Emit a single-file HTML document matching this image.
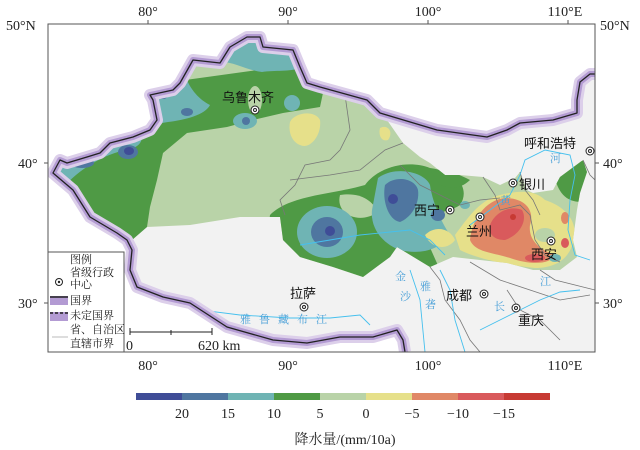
<!DOCTYPE html>
<html><head><meta charset="utf-8"><style>
html,body{margin:0;padding:0;background:#fff;}
svg{display:block;}
.t{font-family:"Liberation Serif","Noto Serif CJK SC",serif;font-size:14px;fill:#222;}
.c{font-family:"Liberation Sans","Noto Sans CJK SC",sans-serif;font-size:13px;fill:#111;}
.r{font-family:"Liberation Serif","Noto Serif CJK SC",serif;font-size:11px;fill:#4aa0d8;}
</style></head><body>
<svg width="640" height="450" viewBox="0 0 640 450" xmlns="http://www.w3.org/2000/svg">
<defs><clipPath id="fr"><rect x="48" y="24" width="547" height="328"/></clipPath>
<clipPath id="sa"><polygon points="60,160 67,163 87,157 100,153 110,143 133,137 150,130 157,120 153,100 150,95 173,90 180,83 193,60 220,63 230,47 247,37 260,37 263,47 293,50 300,67 307,83 320,87 367,100 380,113 387,120 403,143 420,157 430,163 445,175 460,175 483,177 500,185 515,178 520,172 527,190 533,193 553,190 560,177 583,160 587,172 580,193 577,210 573,240 577,257 560,270 533,270 507,263 480,260 453,257 430,267 397,247 390,257 363,277 333,267 300,257 283,240 280,217 240,217 190,225 147,227 132,240 127,240 117,233 90,217 73,190 53,173"/></clipPath>
<polyline id="b" points="596,74 590,74 580,82 577,100 577,113 553,120 520,123 507,130 487,137 437,130 380,113 367,100 320,87 307,83 300,67 293,50 263,47 260,37 247,37 230,47 220,63 193,60 180,83 173,90 150,95 153,100 157,120 150,130 133,137 110,143 100,153 87,157 67,163 60,160 53,173 73,190 90,217 117,233 127,240 132,250 130,270 137,287 163,297 190,303 227,327 273,340 307,343 340,337 373,337 397,330 403,340 405,352"/>
</defs>
<g clip-path="url(#fr)">
<rect x="48" y="24" width="547" height="328" fill="#f2f2f2"/>
<polygon fill="#fff" points="48,24 596,24 596,74 590,74 580,82 577,100 577,113 553,120 520,123 507,130 487,137 437,130 380,113 367,100 320,87 307,83 300,67 293,50 263,47 260,37 247,37 230,47 220,63 193,60 180,83 173,90 150,95 153,100 157,120 150,130 133,137 110,143 100,153 87,157 67,163 60,160 53,173 73,190 90,217 117,233 127,240 132,250 130,270 137,287 163,297 190,303 227,327 273,340 307,343 340,337 373,337 397,330 403,340 405,352 48,352"/>
<g clip-path="url(#sa)">
<rect x="48" y="24" width="547" height="328" fill="#b9d3a8"/>
<polygon fill="#4f9a45" points="40,100 330,60 320,107 283,113 253,120 227,127 187,133 163,153 157,180 150,207 147,227 130,260 40,260"/>
<path fill="#e6e08a" d="M290,122 C295,112 315,110 320,120 C322,135 310,150 300,145 C292,142 288,132 290,122Z"/>
<path fill="#e6e08a" d="M380,128 C388,124 394,132 388,140 C382,142 378,136 380,128Z"/>
<path fill="#6fb4b4" d="M150,80 L185,75 C190,90 200,100 210,105 C205,115 185,120 168,122 L150,125Z"/>
<path fill="#6fb4b4" d="M215,40 L300,40 L300,68 C290,72 275,70 262,72 C245,70 232,60 215,62Z"/>
<path fill="#6fb4b4" d="M48,150 L140,130 C145,140 140,148 125,150 C105,155 85,165 65,185 L48,185Z"/>
<ellipse cx="245" cy="121" rx="12" ry="8" fill="#6fb4b4"/>
<ellipse cx="292" cy="103" rx="8" ry="8" fill="#6fb4b4"/>
<ellipse cx="246" cy="121" rx="4" ry="4" fill="#4f76a0"/>
<ellipse cx="128" cy="152" rx="10" ry="7" fill="#4f76a0"/>
<ellipse cx="129" cy="151" rx="5" ry="4" fill="#3f4d97"/>
<ellipse cx="82" cy="163" rx="12" ry="5" fill="#4f76a0"/>
<ellipse cx="187" cy="112" rx="6" ry="4" fill="#4f76a0"/>
<ellipse cx="163" cy="95" rx="5" ry="4" fill="#4f76a0"/>
<ellipse cx="255" cy="100" rx="7" ry="14" fill="#b9d3a8"/>
<path fill="#4f9a45" d="M270,215 C290,195 330,195 365,185 C380,165 410,160 430,168 C460,172 470,190 460,205 C445,215 430,210 420,225 L440,270 L260,290Z"/>
<path fill="#b9d3a8" d="M340,195 C360,192 372,200 378,212 C360,225 335,215 340,195Z"/>
<path fill="#6fb4b4" d="M378,178 C395,165 425,172 430,185 C432,200 440,220 450,235 C440,250 420,255 400,250 C385,245 370,230 372,210Z"/>
<ellipse cx="327" cy="232" rx="30" ry="26" fill="#6fb4b4"/>
<ellipse cx="327" cy="232" rx="16" ry="15" fill="#4f76a0"/>
<circle cx="330" cy="231" r="5" fill="#3f4d97"/>
<path fill="#4f76a0" d="M385,185 C395,175 415,178 418,190 C420,205 410,218 400,222 C388,220 382,200 385,185Z"/>
<circle cx="393" cy="199" r="5" fill="#3f4d97"/>
<ellipse cx="438" cy="215" rx="7" ry="6" fill="#4f76a0"/>
<ellipse cx="465" cy="205" rx="5" ry="4" fill="#6fb4b4"/>
<path fill="#4f9a45" d="M555,178 C565,165 580,160 590,160 L590,200 C575,205 560,200 555,178Z"/>
<path fill="#4f9a45" d="M430,170 C445,168 460,175 470,180 C460,190 448,188 440,185Z"/>
<path fill="#e6e08a" d="M455,235 C470,215 480,200 500,195 C520,190 535,190 545,200 C560,205 575,215 575,235 C572,255 560,268 535,268 C510,265 480,260 460,250Z"/>
<path fill="#e6e08a" d="M425,235 C435,225 450,228 455,240 C448,250 432,250 425,235Z"/>
<path fill="#e08866" d="M470,240 C472,220 485,200 505,198 C525,198 535,210 530,225 C528,240 540,250 555,255 C550,265 530,265 510,258 C490,252 475,252 470,240Z"/>
<path fill="#d95a5c" d="M490,225 C495,212 510,205 522,210 C528,220 520,235 505,240 C495,240 488,235 490,225Z"/>
<circle cx="513" cy="217" r="3" fill="#c73a33"/>
<ellipse cx="565" cy="218" rx="4" ry="6" fill="#e08866"/>
<ellipse cx="565" cy="243" rx="4" ry="5" fill="#d95a5c"/>
<ellipse cx="535" cy="258" rx="10" ry="4" fill="#d95a5c"/>
<ellipse cx="545" cy="235" rx="10" ry="7" fill="#b9d3a8"/>
<ellipse cx="555" cy="258" rx="6" ry="4" fill="#6fb4b4"/>
</g>
<g fill="none" stroke="#777" stroke-width="0.8">
<polyline points="345,95 350,130 340,150 330,160 305,165 295,185 280,200 285,215"/>
<polyline points="290,180 330,175 360,170 385,150 403,143"/>
<polyline points="400,165 420,185 440,195 460,205 480,200 500,198"/>
<polyline points="483,177 495,195 500,210 520,205 530,215 535,240 545,255 560,262"/>
<polyline points="520,172 525,190 533,200 540,215"/>
<polyline points="430,267 440,280 445,300 460,320 470,340 480,352"/>
<polyline points="470,262 500,280 530,290 560,300 590,295"/>
<polyline points="507,290 520,310 540,320 560,340"/>
<polyline points="583,160 590,175 595,180"/>
<polyline points="540,270 555,280 575,285 595,290"/>
</g>
<g fill="none" stroke="#45c0ee" stroke-width="0.9">
<polyline points="300,245 330,240 360,235 390,232 410,230 430,240 445,255"/>
<polyline points="440,270 450,290 455,320 465,352"/>
<polyline points="410,270 420,300 425,352"/>
<polyline points="175,297 200,310 240,315 290,318 330,318 360,315 370,325"/>
<polyline points="470,225 490,210 510,195 520,175 525,160 545,150 570,155 575,175 570,200 568,230 575,255 590,260"/>
<polyline points="480,330 500,320 520,310 540,300 560,292 580,290"/>
</g>
<g fill="none" stroke-linejoin="round">
<use href="#b" stroke="#dccfea" stroke-width="12"/>
<use href="#b" stroke="#b39bd3" stroke-width="6"/>
<use href="#b" stroke="#222" stroke-width="1.3"/>
</g>
<g fill="#fff" stroke="#222" stroke-width="1">
<circle cx="255" cy="110" r="4"/><circle cx="255" cy="110" r="1.5"/>
<circle cx="450" cy="210" r="4"/><circle cx="450" cy="210" r="1.5"/>
<circle cx="480" cy="217" r="4"/><circle cx="480" cy="217" r="1.5"/>
<circle cx="513" cy="183" r="4"/><circle cx="513" cy="183" r="1.5"/>
<circle cx="551" cy="241" r="4"/><circle cx="551" cy="241" r="1.5"/>
<circle cx="590" cy="151" r="4"/><circle cx="590" cy="151" r="1.5"/>
<circle cx="484" cy="294" r="4"/><circle cx="484" cy="294" r="1.5"/>
<circle cx="516" cy="308" r="4"/><circle cx="516" cy="308" r="1.5"/>
<circle cx="304" cy="307" r="4"/><circle cx="304" cy="307" r="1.5"/>
</g>
<text class="c" x="222" y="102" font-size="14">乌鲁木齐</text>
<text class="c" x="414" y="215" font-size="14">西宁</text>
<text class="c" x="466" y="236" font-size="14">兰州</text>
<text class="c" x="519" y="189" font-size="14">银川</text>
<text class="c" x="531" y="259" font-size="14">西安</text>
<text class="c" x="524" y="148" font-size="14">呼和浩特</text>
<text class="c" x="446" y="300" font-size="14">成都</text>
<text class="c" x="518" y="325" font-size="14">重庆</text>
<text class="c" x="290" y="298" font-size="14">拉萨</text>
<text class="r" x="240" y="323" letter-spacing="8">雅鲁藏布江</text>
<text class="r" x="395" y="280">金</text><text class="r" x="400" y="300">沙</text>
<text class="r" x="420" y="290">雅</text><text class="r" x="425" y="308">砻</text>
<text class="r" x="540" y="285">江</text><text class="r" x="494" y="310">长</text>
<text class="r" x="500" y="204">黄</text><text class="r" x="550" y="162">河</text>
<rect x="48" y="252" width="76" height="100" fill="#fff" stroke="#555" stroke-width="1"/>
<g font-family="Liberation Serif,Noto Serif CJK SC,serif" font-size="11" fill="#222">
<text x="70" y="263">图例</text>
<text x="70" y="276">省级行政</text>
<text x="70" y="288">中心</text>
<text x="70" y="304">国界</text>
<text x="70" y="319">未定国界</text>
<text x="70" y="333">省、自治区</text>
<text x="70" y="347">直辖市界</text>
</g>
<circle cx="59" cy="282" r="3.5" fill="#fff" stroke="#222"/><circle cx="59" cy="282" r="1.2" fill="#222"/>
<rect x="50" y="296" width="18" height="9" fill="#b39bd3"/><line x1="50" y1="297" x2="68" y2="297" stroke="#222" stroke-width="1.5"/>
<rect x="50" y="312" width="18" height="9" fill="#b39bd3"/><line x1="50" y1="313" x2="68" y2="313" stroke="#222" stroke-width="1.5" stroke-dasharray="3,2"/>
<line x1="52" y1="337" x2="68" y2="337" stroke="#aaa" stroke-width="0.8"/>
<g stroke="#222" stroke-width="1"><line x1="130" y1="332" x2="212" y2="332"/><line x1="130" y1="328" x2="130" y2="335"/><line x1="171" y1="330" x2="171" y2="335"/><line x1="212" y1="328" x2="212" y2="335"/></g>
<text class="t" x="126" y="350" font-size="13">0</text>
<text class="t" x="198" y="350" font-size="13">620 km</text>
</g>
<rect x="48" y="24" width="547" height="328" fill="none" stroke="#555" stroke-width="1"/>
<g stroke="#555"><line x1="148" y1="20" x2="148" y2="24"/><line x1="288" y1="20" x2="288" y2="24"/><line x1="428" y1="20" x2="428" y2="24"/><line x1="568" y1="20" x2="568" y2="24"/>
<line x1="44" y1="163" x2="48" y2="163"/><line x1="44" y1="303" x2="48" y2="303"/><line x1="595" y1="163" x2="599" y2="163"/><line x1="595" y1="303" x2="599" y2="303"/></g>
<g class="t" text-anchor="middle">
<text x="148" y="16">80°</text><text x="288" y="16">90°</text><text x="428" y="16">100°</text><text x="565" y="16">110°E</text>
<text x="148" y="370">80°</text><text x="288" y="370">90°</text><text x="428" y="370">100°</text><text x="565" y="370">110°E</text>
</g>
<g class="t"><text x="6" y="30">50°N</text><text x="18" y="168">40°</text><text x="18" y="308">30°</text>
<text x="600" y="30">50°N</text><text x="603" y="168">40°</text><text x="603" y="308">30°</text></g>
<g>
<rect x="136" y="393" width="46" height="7" fill="#3f4d97"/>
<rect x="182" y="393" width="46" height="7" fill="#4f76a0"/>
<rect x="228" y="393" width="46" height="7" fill="#6fb4b4"/>
<rect x="274" y="393" width="46" height="7" fill="#4f9a45"/>
<rect x="320" y="393" width="46" height="7" fill="#b9d3a8"/>
<rect x="366" y="393" width="46" height="7" fill="#e6e08a"/>
<rect x="412" y="393" width="46" height="7" fill="#e08866"/>
<rect x="458" y="393" width="46" height="7" fill="#d95a5c"/>
<rect x="504" y="393" width="46" height="7" fill="#c73a33"/>
</g>
<g class="t" text-anchor="middle"><text x="182" y="418">20</text><text x="228" y="418">15</text><text x="274" y="418">10</text><text x="320" y="418">5</text><text x="366" y="418">0</text><text x="412" y="418">−5</text><text x="458" y="418">−10</text><text x="504" y="418">−15</text>
<text x="345" y="444" font-size="14">降水量/(mm/10a)</text></g>
</svg>
</body></html>
